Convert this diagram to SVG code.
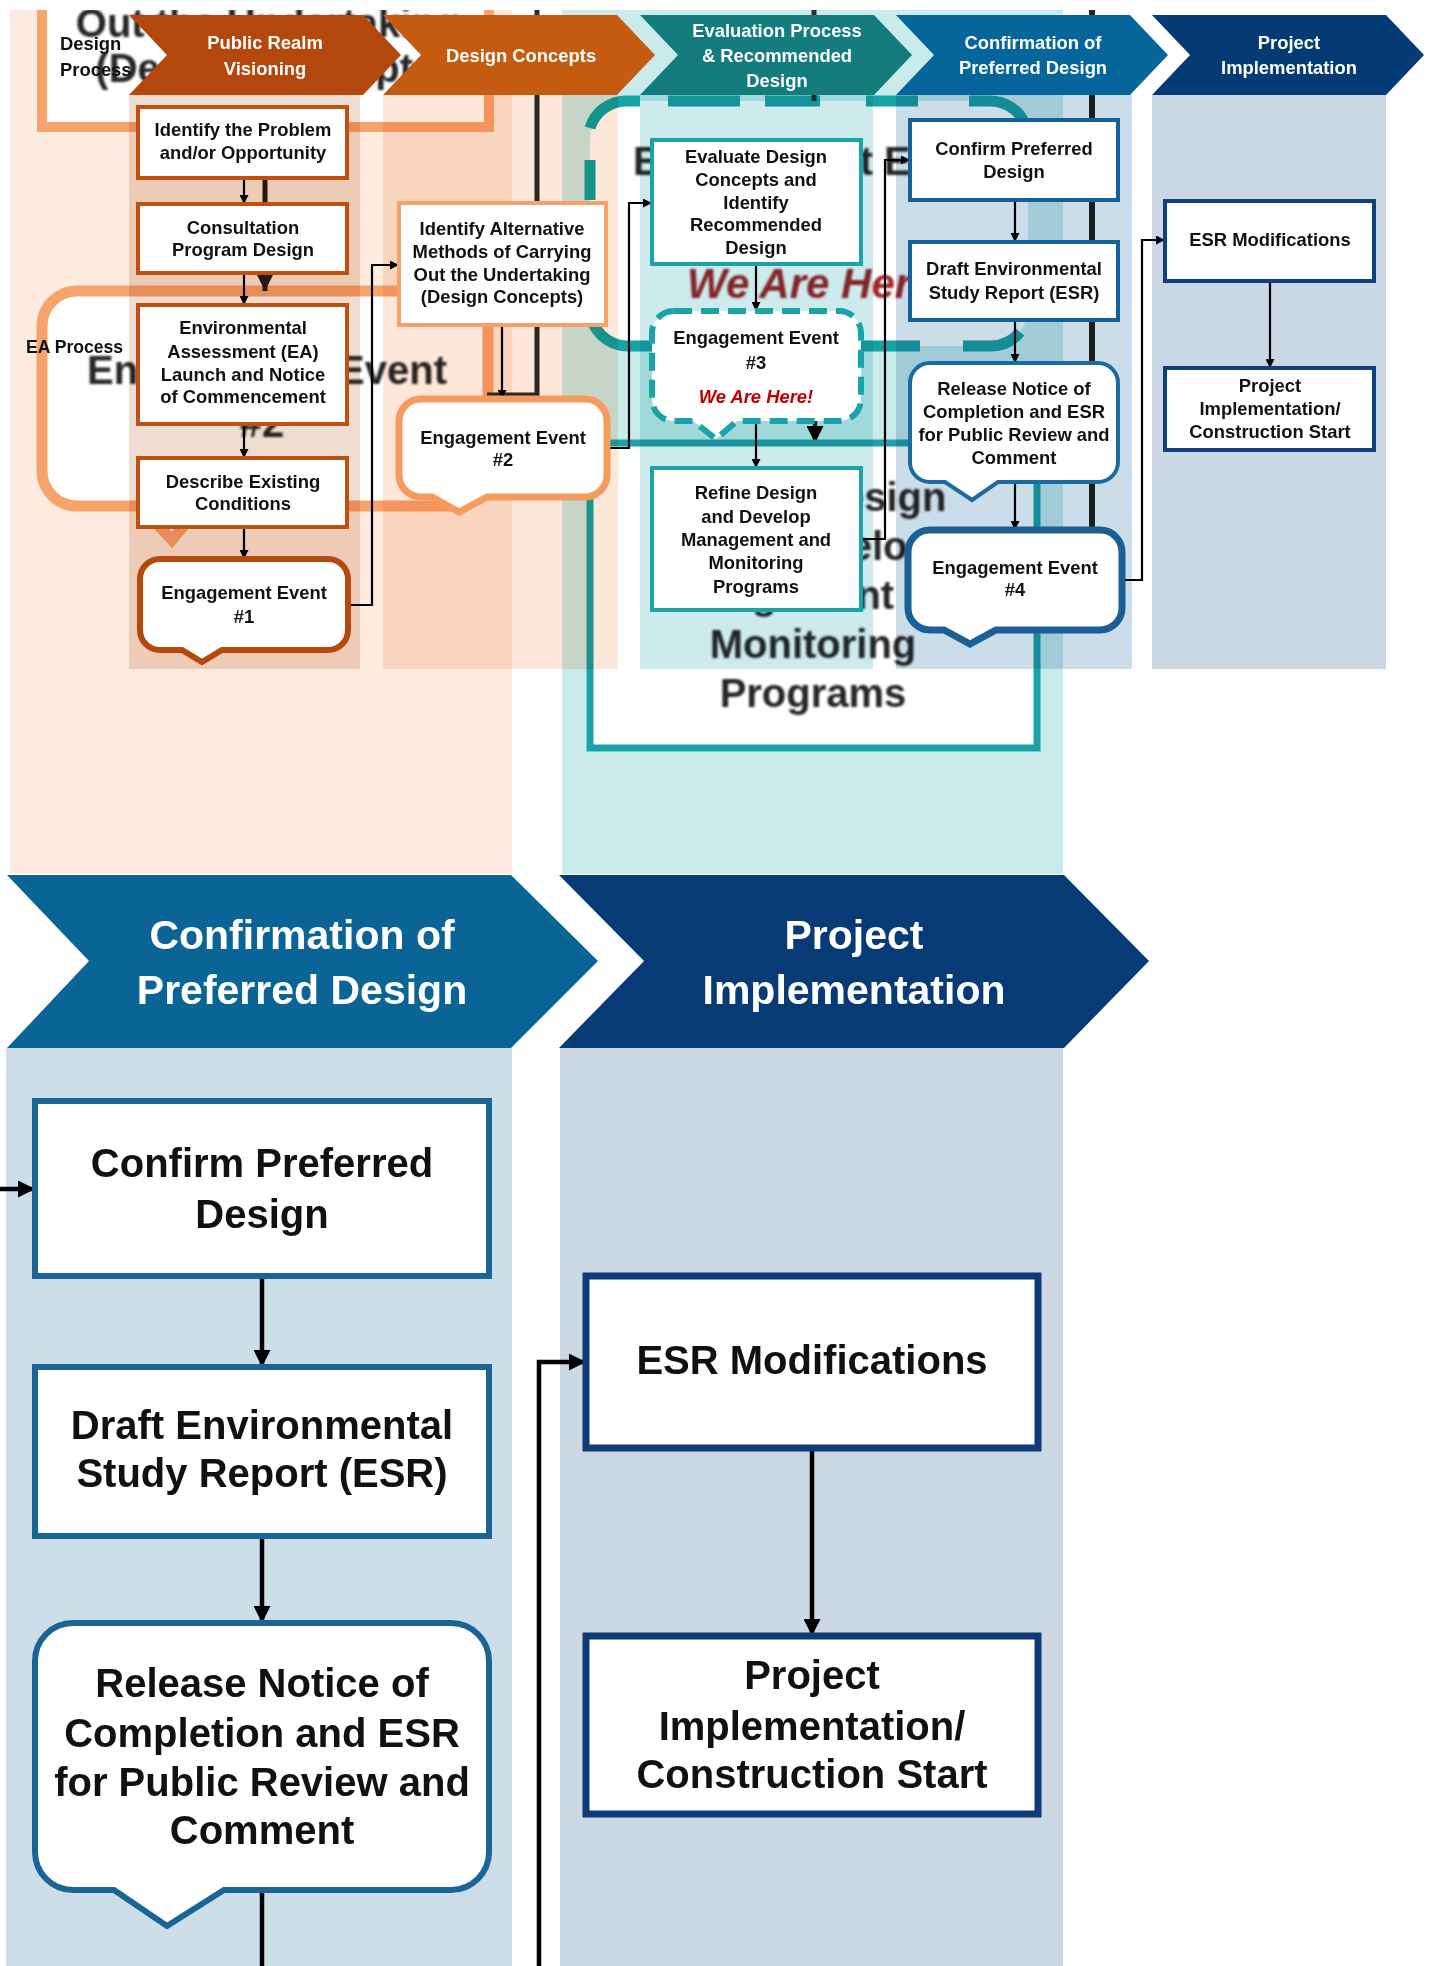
<svg xmlns="http://www.w3.org/2000/svg" width="1432" height="1966" viewBox="0 0 1432 1966">
<defs>
<style>
.t{font-family:'Liberation Sans',Arial,sans-serif;font-weight:bold;font-size:18.4px;fill:#111;text-anchor:middle}
.h{font-family:'Liberation Sans',Arial,sans-serif;font-weight:bold;font-size:18.4px;fill:#fff;text-anchor:middle}
.B{font-family:'Liberation Sans',Arial,sans-serif;font-weight:bold;font-size:40px;fill:#111;text-anchor:middle}
.BH{font-family:'Liberation Sans',Arial,sans-serif;font-weight:bold;font-size:41px;fill:#fff;text-anchor:middle}
.bg{font-family:'Liberation Sans',Arial,sans-serif;font-weight:bold;font-size:40px;fill:#262626;text-anchor:middle}
.c{fill:none;stroke:#000;stroke-width:2.2}
.cb{fill:none;stroke:#000;stroke-width:4.5}
.bx{fill:#fff;stroke-width:4}
.lane{mix-blend-mode:multiply}
</style>
<marker id="a" viewBox="0 0 10 10" refX="10" refY="5" markerUnits="userSpaceOnUse" markerWidth="10" markerHeight="9" orient="auto"><path d="M0,0L10,5L0,10z" fill="#000"/></marker>
<marker id="ab" viewBox="0 0 10 10" refX="10" refY="5" markerUnits="userSpaceOnUse" markerWidth="22" markerHeight="17" orient="auto"><path d="M0,0L10,5L0,10z" fill="#000"/></marker>
<marker id="ad" viewBox="0 0 10 10" refX="10" refY="5" markerUnits="userSpaceOnUse" markerWidth="17" markerHeight="16" orient="auto"><path d="M0,0L10,5L0,10z" fill="#2a1a12"/></marker>
<clipPath id="topclip"><rect x="0" y="10" width="1432" height="864"/></clipPath>
<filter id="bl" x="-5%" y="-20%" width="110%" height="140%"><feGaussianBlur stdDeviation="0.8"/></filter>
</defs>
<rect width="1432" height="1966" fill="#fff"/>

<!-- background enlarged view (top) -->
<g id="background-top" clip-path="url(#topclip)">
<rect x="10" y="10" width="502" height="864" fill="#FDEBDF"/>
<rect x="562" y="10" width="501" height="864" fill="#C9EBEB"/>
<rect x="42" y="-60" width="447" height="187" fill="#fff" stroke="#F7A36C" stroke-width="10"/>
<path d="M77,291 H453 A35,35 0 0 1 488,326 V471 A35,35 0 0 1 453,506 H200 L172,540 L140,506 H77 A35,35 0 0 1 42,471 V326 A35,35 0 0 1 77,291 Z" fill="#fff" stroke="#F7A36C" stroke-width="11"/>
<line x1="265" y1="130" x2="265" y2="291" stroke="#2a1a12" stroke-width="5" marker-end="url(#ad)"/>
<polyline points="487,395 537,395 537,10" fill="none" stroke="#2b2b2b" stroke-width="5"/>
<rect x="590" y="101" width="438" height="245" rx="38" fill="#fff"/>
<g fill="none" stroke="#17A2A6" stroke-width="11">
<path d="M590,128 A38,38 0 0 1 628,101 H640"/>
<path d="M668,101 H740 M765,101 H820 M866,101 H918 M969,101 H990 A38,38 0 0 1 1024,122"/>
<path d="M590,160 V200"/>
<path d="M590,285 V308 A38,38 0 0 0 628,346 H655"/>
<path d="M860,346 H920 M963,346 H990 A38,38 0 0 0 1020,332"/>
</g>
<line x1="814" y1="10" x2="814" y2="101" stroke="#2b2b2b" stroke-width="5"/>
<line x1="1092" y1="10" x2="1092" y2="560" stroke="#222" stroke-width="6"/>
<line x1="815" y1="350" x2="815" y2="443" stroke="#1a2e2e" stroke-width="4.5" marker-end="url(#ab)"/>
<rect x="590" y="443" width="447" height="305" fill="#fff" stroke="#1CA3A7" stroke-width="7"/>
<g filter="url(#bl)">
<text class="bg" x="268" y="37" font-size="42">Out the Undertaking</text>
<text class="bg" x="272" y="82" font-size="42">(Design Concepts)</text>
<text class="bg" x="267" y="384">Engagement Event</text>
<text class="bg" x="262" y="437">#2</text>
<text class="bg" x="813" y="175">Engagement Event</text>
<text class="bg" x="813" y="226">#3</text>
<text x="687" y="298" font-family="'Liberation Sans',Arial,sans-serif" font-weight="bold" font-style="italic" font-size="42" fill="#A3262C">We Are Here!</text>
<text class="bg" x="813" y="511">Refine Design</text>
<text class="bg" x="813" y="560">and Develop</text>
<text class="bg" x="813" y="609">Management and</text>
<text class="bg" x="813" y="658">Monitoring</text>
<text class="bg" x="813" y="707">Programs</text>
</g>
</g>

<!-- bottom enlarged view: headers and lanes -->
<g id="big-header-confirmation"><polygon points="7,875 511,875 598,961 511,1048 7,1048 89,961" fill="#0A6496"/><text class="BH" x="302" y="949">Confirmation of</text><text class="BH" x="302" y="1004">Preferred Design</text></g>
<g id="big-header-implementation"><polygon points="559,875 1064,875 1149,961 1064,1048 559,1048 644,961" fill="#063B76"/><text class="BH" x="854" y="949">Project</text><text class="BH" x="854" y="1004">Implementation</text></g>
<g id="big-lanes">
<rect x="6" y="1048" width="506" height="918" fill="#CCDEEA"/>
<rect x="560" y="1048" width="503" height="918" fill="#CBD7E3"/>
</g>

<!-- small flowchart lanes -->
<g id="lanes">
<rect class="lane" x="129" y="95" width="231" height="574" fill="#EFDDD1"/>
<rect class="lane" x="383" y="95" width="235" height="574" fill="#FCE7D9"/>
<rect class="lane" x="640" y="95" width="233" height="574" fill="#CDEBED"/>
<rect class="lane" x="896" y="95" width="236" height="574" fill="#CCDDEA"/>
<rect class="lane" x="1152" y="95" width="234" height="574" fill="#CBD7E3"/>
</g>

<!-- small header chevrons -->
<g id="header-public-realm"><polygon points="129,15 363,15 401,55 363,95 129,95 167,55" fill="#B4470B"/><text class="h" x="265" y="49">Public Realm</text><text class="h" x="265" y="75">Visioning</text></g>
<g id="header-design-concepts"><polygon points="383,15 617,15 655,55 617,95 383,95 421,55" fill="#C55A11"/><text class="h" x="521" y="62">Design Concepts</text></g>
<g id="header-evaluation"><polygon points="640,15 874,15 912,55 874,95 640,95 678,55" fill="#147C7D"/><text class="h" x="777" y="37">Evaluation Process</text><text class="h" x="777" y="62">&amp; Recommended</text><text class="h" x="777" y="87">Design</text></g>
<g id="header-confirmation"><polygon points="896,15 1130,15 1168,55 1130,95 896,95 934,55" fill="#06659A"/><text class="h" x="1033" y="49">Confirmation of</text><text class="h" x="1033" y="74">Preferred Design</text></g>
<g id="header-implementation"><polygon points="1152,15 1386,15 1424,55 1386,95 1152,95 1190,55" fill="#053B75"/><text class="h" x="1289" y="49">Project</text><text class="h" x="1289" y="74">Implementation</text></g>

<g id="label-design-process"><text class="t" x="60" y="50" style="text-anchor:start">Design</text><text class="t" x="60" y="76" style="text-anchor:start">Process</text></g>
<g id="label-ea-process"><text class="t" x="26" y="353" style="text-anchor:start;font-size:17.6px">EA Process</text></g>

<!-- connectors -->
<g id="connectors">
<line class="c" x1="244" y1="178" x2="244" y2="204" marker-end="url(#a)"/>
<line class="c" x1="244" y1="273" x2="244" y2="305" marker-end="url(#a)"/>
<line class="c" x1="244" y1="424" x2="244" y2="458" marker-end="url(#a)"/>
<line class="c" x1="244" y1="527" x2="244" y2="559" marker-end="url(#a)"/>
<path class="c" d="M348,605 H372 V265 H399" marker-end="url(#a)"/>
<line class="c" x1="502" y1="325" x2="502" y2="399" marker-end="url(#a)"/>
<path class="c" d="M607,448 H629 V203 H652" marker-end="url(#a)"/>
<line class="c" x1="756" y1="264" x2="756" y2="311" marker-end="url(#a)"/>
<line class="c" x1="756" y1="421" x2="756" y2="468" marker-end="url(#a)"/>
<path class="c" d="M861,539 H885 V160 H910" marker-end="url(#a)"/>
<line class="c" x1="1015" y1="200" x2="1015" y2="242" marker-end="url(#a)"/>
<line class="c" x1="1015" y1="320" x2="1015" y2="363" marker-end="url(#a)"/>
<line class="c" x1="1015" y1="482" x2="1015" y2="530" marker-end="url(#a)"/>
<path class="c" d="M1122,580 H1142 V240 H1165" marker-end="url(#a)"/>
<line class="c" x1="1270" y1="281" x2="1270" y2="368" marker-end="url(#a)"/>
<line class="cb" x1="0" y1="1189" x2="35" y2="1189" marker-end="url(#ab)"/>
<line class="cb" x1="262" y1="1276" x2="262" y2="1367" marker-end="url(#ab)"/>
<line class="cb" x1="262" y1="1536" x2="262" y2="1623" marker-end="url(#ab)"/>
<line class="cb" x1="262" y1="1890" x2="262" y2="1966"/>
<path class="cb" d="M539,1966 V1362 H586" marker-end="url(#ab)"/>
<line class="cb" x1="812" y1="1448" x2="812" y2="1636" marker-end="url(#ab)"/>
</g>

<!-- small nodes -->
<g id="n-identify-problem"><rect class="bx" x="138" y="107" width="209" height="71" stroke="#C0500F"/><text class="t" x="243" y="136">Identify the Problem</text><text class="t" x="243" y="159">and/or Opportunity</text></g>
<g id="n-consultation"><rect class="bx" x="138" y="204" width="209" height="69" stroke="#C0500F"/><text class="t" x="243" y="234">Consultation</text><text class="t" x="243" y="256">Program Design</text></g>
<g id="n-ea-launch"><rect class="bx" x="138" y="305" width="209" height="119" stroke="#C0500F"/><text class="t" x="243" y="334">Environmental</text><text class="t" x="243" y="358">Assessment (EA)</text><text class="t" x="243" y="381">Launch and Notice</text><text class="t" x="243" y="403">of Commencement</text></g>
<g id="n-describe"><rect class="bx" x="138" y="458" width="209" height="69" stroke="#C0500F"/><text class="t" x="243" y="488">Describe Existing</text><text class="t" x="243" y="510">Conditions</text></g>
<g id="n-ee1"><path d="M160,559 H328 A20,20 0 0 1 348,579 V630 A20,20 0 0 1 328,650 H222 L202,662 L182,650 H160 A20,20 0 0 1 140,630 V579 A20,20 0 0 1 160,559 Z" fill="#fff" stroke="#B5480C" stroke-width="6"/><text class="t" x="244" y="599">Engagement Event</text><text class="t" x="244" y="623">#1</text></g>
<g id="n-identify-alt"><rect class="bx" x="399" y="203" width="207" height="122" stroke="#F4A16B"/><text class="t" x="502" y="235">Identify Alternative</text><text class="t" x="502" y="258">Methods of Carrying</text><text class="t" x="502" y="281">Out the Undertaking</text><text class="t" x="502" y="303">(Design Concepts)</text></g>
<g id="n-ee2"><path d="M421,399 H585 A22,22 0 0 1 607,421 V475 A22,22 0 0 1 585,497 H487 L459,512 L432,497 H421 A22,22 0 0 1 399,475 V421 A22,22 0 0 1 421,399 Z" fill="#fff" stroke="#F59B5E" stroke-width="7"/><text class="t" x="503" y="444">Engagement Event</text><text class="t" x="503" y="466">#2</text></g>
<g id="n-evaluate"><rect class="bx" x="652" y="140" width="209" height="124" stroke="#1AA3A8"/><text class="t" x="756" y="163">Evaluate Design</text><text class="t" x="756" y="186">Concepts and</text><text class="t" x="756" y="209">Identify</text><text class="t" x="756" y="231">Recommended</text><text class="t" x="756" y="254">Design</text></g>
<g id="n-ee3"><path d="M674,311 H839 A22,22 0 0 1 861,333 V399 A22,22 0 0 1 839,421 H737 L716,439 L693,421 H674 A22,22 0 0 1 652,399 V333 A22,22 0 0 1 674,311 Z" fill="#fff" stroke="#1AA3A8" stroke-width="6" stroke-dasharray="18 9"/><text class="t" x="756" y="344">Engagement Event</text><text class="t" x="756" y="369">#3</text><text class="t" x="756" y="403" style="fill:#C00000;font-style:italic">We Are Here!</text></g>
<g id="n-refine"><rect class="bx" x="652" y="468" width="209" height="142" stroke="#1AA3A8"/><text class="t" x="756" y="499">Refine Design</text><text class="t" x="756" y="523">and Develop</text><text class="t" x="756" y="546">Management and</text><text class="t" x="756" y="569">Monitoring</text><text class="t" x="756" y="593">Programs</text></g>
<g id="n-confirm"><rect class="bx" x="910" y="120" width="208" height="80" stroke="#14629A"/><text class="t" x="1014" y="155">Confirm Preferred</text><text class="t" x="1014" y="178">Design</text></g>
<g id="n-draft"><rect class="bx" x="910" y="242" width="208" height="78" stroke="#14629A"/><text class="t" x="1014" y="275">Draft Environmental</text><text class="t" x="1014" y="299">Study Report (ESR)</text></g>
<g id="n-release"><path d="M930,363 H1098 A20,20 0 0 1 1118,383 V462 A20,20 0 0 1 1098,482 H998 L972,500 L945,482 H930 A20,20 0 0 1 910,462 V383 A20,20 0 0 1 930,363 Z" fill="#fff" stroke="#1B6AA0" stroke-width="4"/><text class="t" x="1014" y="395">Release Notice of</text><text class="t" x="1014" y="418">Completion and ESR</text><text class="t" x="1014" y="441">for Public Review and</text><text class="t" x="1014" y="464">Comment</text></g>
<g id="n-ee4"><path d="M930,530 H1100 A22,22 0 0 1 1122,552 V608 A22,22 0 0 1 1100,630 H996 L970,644 L944,630 H930 A22,22 0 0 1 908,608 V552 A22,22 0 0 1 930,530 Z" fill="#fff" stroke="#1A5F96" stroke-width="7"/><text class="t" x="1015" y="574">Engagement Event</text><text class="t" x="1015" y="596">#4</text></g>
<g id="n-esr-mod"><rect class="bx" x="1165" y="201" width="209" height="80" stroke="#123F7D"/><text class="t" x="1270" y="246">ESR Modifications</text></g>
<g id="n-project-impl"><rect class="bx" x="1165" y="368" width="209" height="82" stroke="#123F7D"/><text class="t" x="1270" y="392">Project</text><text class="t" x="1270" y="415">Implementation/</text><text class="t" x="1270" y="438">Construction Start</text></g>

<!-- big nodes -->
<g id="big-confirm"><rect x="35" y="1101" width="454" height="175" fill="#fff" stroke="#1A6496" stroke-width="6"/><text class="B" x="262" y="1177">Confirm Preferred</text><text class="B" x="262" y="1228">Design</text></g>
<g id="big-draft"><rect x="35" y="1367" width="454" height="169" fill="#fff" stroke="#1A6496" stroke-width="6"/><text class="B" x="262" y="1439">Draft Environmental</text><text class="B" x="262" y="1487">Study Report (ESR)</text></g>
<g id="big-release"><path d="M73,1623 H451 A38,38 0 0 1 489,1661 V1852 A38,38 0 0 1 451,1890 H224 L167,1926 L114,1890 H73 A38,38 0 0 1 35,1852 V1661 A38,38 0 0 1 73,1623 Z" fill="#fff" stroke="#1A6496" stroke-width="6"/><text class="B" x="262" y="1697">Release Notice of</text><text class="B" x="262" y="1747">Completion and ESR</text><text class="B" x="262" y="1796">for Public Review and</text><text class="B" x="262" y="1844">Comment</text></g>
<g id="big-esr-mod"><rect x="586" y="1276" width="452" height="172" fill="#fff" stroke="#0E3B78" stroke-width="7"/><text class="B" x="812" y="1374">ESR Modifications</text></g>
<g id="big-project-impl"><rect x="586" y="1636" width="452" height="178" fill="#fff" stroke="#0E3B78" stroke-width="7"/><text class="B" x="812" y="1689">Project</text><text class="B" x="812" y="1740">Implementation/</text><text class="B" x="812" y="1788">Construction Start</text></g>
</svg>
